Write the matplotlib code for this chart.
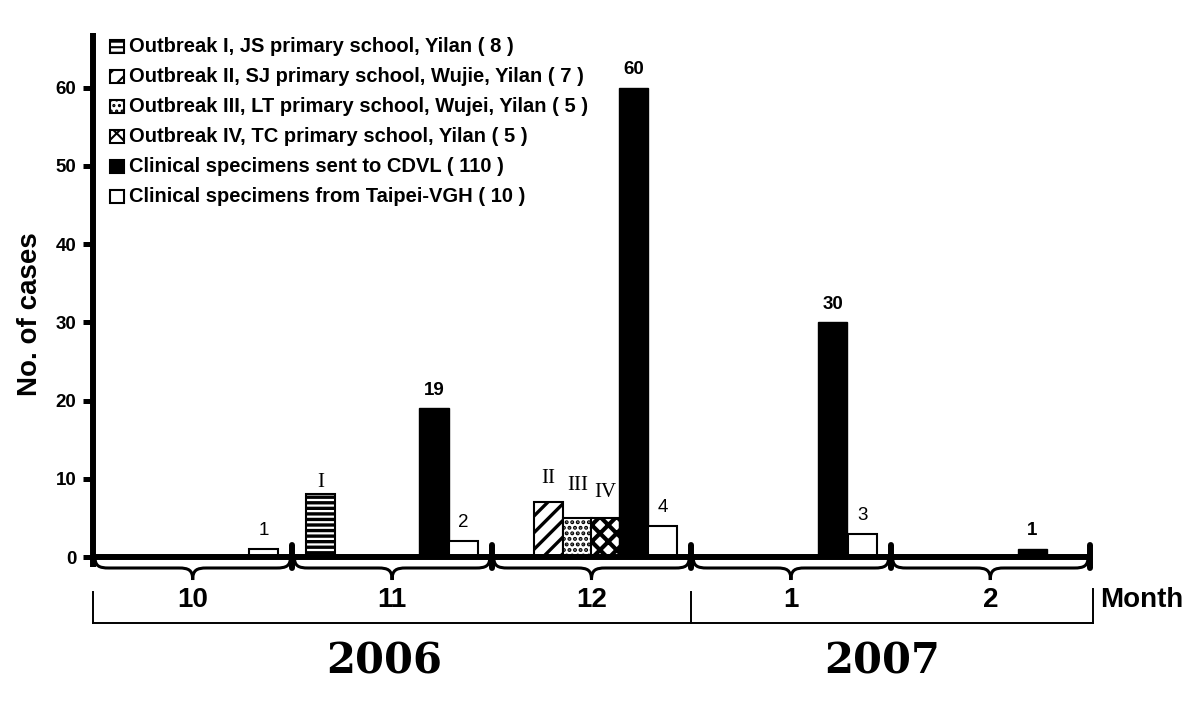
import matplotlib
matplotlib.use("Agg")
import matplotlib.pyplot as plt
import numpy as np
from matplotlib.path import Path
from matplotlib.patches import PathPatch, Rectangle

# ---------------- data ----------------
months = ["10", "11", "12", "1", "2"]
years = ["2006", "2007"]
months_per_year = [3, 2]
cdvl = [0, 19, 60, 30, 1]          # Clinical specimens sent to CDVL
vgh = [1, 2, 4, 3, 0]              # Clinical specimens from Taipei-VGH
outbreak1 = [0, 8, 0, 0, 0]
outbreak2 = [0, 0, 7, 0, 0]
outbreak3 = [0, 0, 5, 0, 0]
outbreak4 = [0, 0, 5, 0, 0]
roman = ["I", "II", "III", "IV"]
legend_labels = [
    "Outbreak I, JS primary school, Yilan ( 8 )",
    "Outbreak II, SJ primary school, Wujie, Yilan ( 7 )",
    "Outbreak III, LT primary school, Wujei, Yilan ( 5 )",
    "Outbreak IV, TC primary school, Yilan ( 5 )",
    "Clinical specimens sent to CDVL ( 110 )",
    "Clinical specimens from Taipei-VGH ( 10 )",
]
yticks = [0, 10, 20, 30, 40, 50, 60]
ylabel = "No. of cases"
xlabel = "Month"

# ---------------- layout ----------------
plt.rcParams['font.family'] = ['Liberation Sans', 'DejaVu Sans']
W, H = 1200, 701
AX_L, AX_R, AX_T, AX_B = 93, 1090, 33, 557
PPU = 7.82           # pixels per case
BW = 0.146           # bar width (months)
off_I, off_II, off_III, off_IV = 0.14, 0.284, 0.43, 0.57
off_cdvl, off_vgh = 0.71, 0.857
roman_off_pt = [5.4, 13.7, 20.2, 15.1]
LW = 4.3

fig = plt.figure(figsize=(W / 100, H / 100), dpi=100)
ov = fig.add_axes([0, 0, 1, 1], zorder=0)
ov.set_xlim(0, W)
ov.set_ylim(H, 0)
ov.axis('off')

ax = fig.add_axes([AX_L / W, (H - AX_B) / H, (AX_R - AX_L) / W, (AX_B - AX_T) / H], zorder=1)
ax.patch.set_visible(False)
ymax = (AX_B - AX_T) / PPU
ax.set_xlim(0, len(months))
ax.set_ylim(0, ymax)
for s in ax.spines.values():
    s.set_visible(False)
ax.set_xticks([])
ax.set_yticks(yticks)
ax.tick_params(axis='y', direction='out', length=7.5, width=3.6, pad=4.3, labelsize=13.5)
for t in ax.get_yticklabels():
    t.set_fontweight('bold')

x = np.arange(len(months))


def set_hlw(patches, lw):
    for p in patches:
        if hasattr(p, 'set_hatch_linewidth'):
            p.set_hatch_linewidth(lw)


plt.rcParams['hatch.linewidth'] = 2.0

styles = [
    dict(facecolor='white', edgecolor='black', hatch='---', linewidth=1.5),
    dict(facecolor='white', edgecolor='black', hatch='//', linewidth=1.5),
    dict(facecolor='white', edgecolor='black', hatch='...', linewidth=1.5),
    dict(facecolor='white', edgecolor='black', hatch='xx', linewidth=1.5),
    dict(facecolor='black', edgecolor='black', linewidth=1.0),
    dict(facecolor='white', edgecolor='black', linewidth=1.5),
]
hatch_lws = [2.4, 2.4, 2.0, 3.0, 1, 1]
series = [outbreak1, outbreak2, outbreak3, outbreak4, cdvl, vgh]
offsets = [off_I, off_II, off_III, off_IV, off_cdvl, off_vgh]

for k, (vals, off, st) in enumerate(zip(series, offsets, styles)):
    v = np.array(vals, float)
    m = v > 0
    bc = ax.bar(x[m] + off, v[m], width=BW, align='center', zorder=2, **st)
    set_hlw(bc.patches, hatch_lws[k])
    for xc, val in zip(x[m] + off, v[m]):
        if k < 4:
            ax.annotate(roman[k], (xc, val), xytext=(0, roman_off_pt[k]),
                        textcoords='offset points', ha='center', va='baseline',
                        fontsize=15, family=['Liberation Serif', 'DejaVu Serif'])
        else:
            ax.annotate(f"{int(val)}", (xc, val), xytext=(0, 10),
                        textcoords='offset points', ha='center', va='baseline',
                        fontsize=13.5, fontweight='bold' if k == 4 else 'normal')

# axis lines
ax.plot([0, len(months)], [0, 0], color='black', lw=LW, clip_on=False,
        solid_capstyle='butt', zorder=4)
ax.plot([0, 0], [-10 / PPU, ymax], color='black', lw=LW, clip_on=False,
        solid_capstyle='butt', zorder=4)
for i in range(1, len(months) + 1):
    ax.plot([i, i], [-11 / PPU, 12 / PPU], color='black', lw=LW, clip_on=False,
            solid_capstyle='round', zorder=4)


def mpx(i):
    return AX_L + i * (AX_R - AX_L) / len(months)


# braces under each month
for i in range(len(months)):
    sx, ex = mpx(i) + 2, mpx(i + 1) - 2
    mx = (sx + ex) / 2
    y0, y1, y2 = AX_B, 568, 580
    verts = [(sx, y0), (sx, y1 - 2), (sx + 4, y1), (sx + 14, y1),
             (mx - 14, y1),
             (mx - 4, y1), (mx, y1 + 2), (mx, y2),
             (mx, y1 + 2), (mx + 4, y1), (mx + 14, y1),
             (ex - 14, y1),
             (ex - 4, y1), (ex, y1 - 2), (ex, y0)]
    codes = [Path.MOVETO, Path.CURVE4, Path.CURVE4, Path.CURVE4,
             Path.LINETO,
             Path.CURVE4, Path.CURVE4, Path.CURVE4,
             Path.CURVE4, Path.CURVE4, Path.CURVE4,
             Path.LINETO,
             Path.CURVE4, Path.CURVE4, Path.CURVE4]
    ov.add_patch(PathPatch(Path(verts, codes), fill=False, lw=2.2, edgecolor='black'))
    ov.text((mpx(i) + mpx(i + 1)) / 2, 600, months[i], ha='center', va='center',
            fontsize=20, fontweight='bold')

ov.text(1100, 600, xlabel, ha='left', va='center', fontsize=20, fontweight='bold')

# year brackets
ov.plot([AX_L, AX_R + 3], [623, 623], color='black', lw=1.4)
start = 0
for yr, n in zip(years, months_per_year):
    xl, xr = mpx(start), mpx(start + n)
    ov.plot([xl, xl], [592, 623], color='black', lw=1.4)
    ov.text((xl + xr) / 2 - 8, 661, yr, ha='center', va='center', fontsize=30,
            fontweight='bold', family=['DejaVu Serif'])
    start += n
ov.plot([AX_R + 3, AX_R + 3], [589, 623], color='black', lw=1.4)

# y label
ov.text(30, 314, ylabel, rotation=90, ha='center', va='center', fontsize=20,
        fontweight='bold')

# legend
for j, (lab, st) in enumerate(zip(legend_labels, styles)):
    yc = 46.5 + 29.9 * j
    p = Rectangle((110, yc - 6.5), 14, 13, **{**st, 'linewidth': 1.5})
    ov.add_patch(p)
    set_hlw([p], 1.5)
    ov.text(129, yc, lab, ha='left', va='center', fontsize=14.5, fontweight='bold')

fig.savefig("out.png", dpi=100)
